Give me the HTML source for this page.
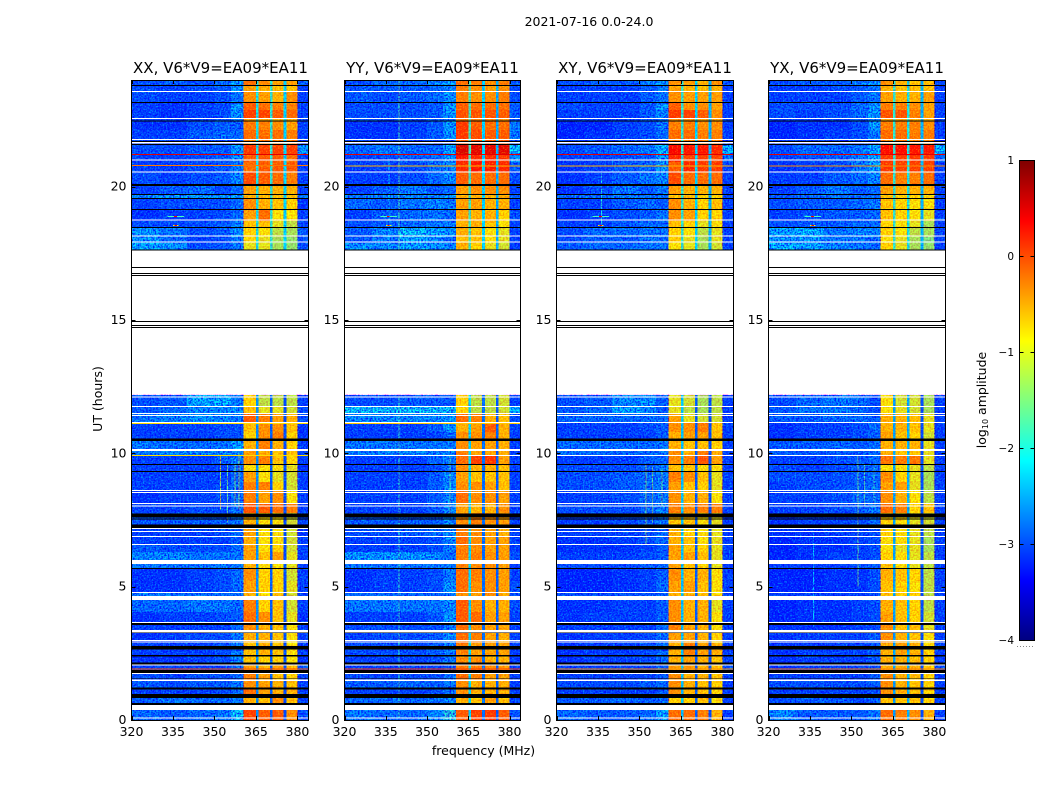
<!DOCTYPE html>
<html lang="en">
<head>
<meta charset="utf-8">
<title>2021-07-16 0.0-24.0</title>
<style>
html,body{margin:0;padding:0;background:#fff}
svg{display:block;font-family:"DejaVu Sans","Liberation Sans",sans-serif}
text{fill:#000}
</style>
</head>
<body>
<svg id="figure" width="1050" height="800" viewBox="0 0 1050 800" xmlns="http://www.w3.org/2000/svg">
<defs>
<filter id="grainCut" x="0" y="0" width="100%" height="100%" color-interpolation-filters="sRGB">
<feTurbulence type="fractalNoise" baseFrequency="0.6" numOctaves="1" seed="4"/>
<feColorMatrix type="matrix" values="0 0 0 0 1  0 0 0 0 0  0 0 0 0 1  3 0 0 0 -1.1"/>
</filter>
<filter id="grainAdd" x="0" y="0" width="100%" height="100%" color-interpolation-filters="sRGB">
<feTurbulence type="fractalNoise" baseFrequency="0.65" numOctaves="1" seed="11"/>
<feColorMatrix type="matrix" values="0 0 0 0 0  0 0 0 0 1  0 0 0 0 0  3 0 0 0 -1.5"/>
</filter>
</defs>
<text x="589" y="26" font-size="12.5" text-anchor="middle">2021-07-16 0.0-24.0</text>
<text x="220.5" y="73" font-size="15" text-anchor="middle">XX, V6*V9=EA09*EA11</text>
<text x="432.5" y="73" font-size="15" text-anchor="middle">YY, V6*V9=EA09*EA11</text>
<text x="645" y="73" font-size="15" text-anchor="middle">XY, V6*V9=EA09*EA11</text>
<text x="857" y="73" font-size="15" text-anchor="middle">YX, V6*V9=EA09*EA11</text>
<text transform="translate(102,399) rotate(-90)" font-size="12.5" text-anchor="middle">UT (hours)</text>
<text x="483.5" y="755" font-size="12.5" text-anchor="middle">frequency (MHz)</text>
<text transform="translate(986,400) rotate(-90)" font-size="12.5" text-anchor="middle">log<tspan font-size="8" dy="2">10</tspan><tspan dy="-2"> amplitude</tspan></text>
<g id="panels"></g>
<g id="colorbar"></g>
</svg>
<script>
// Axis tick labels
const freqTicks = [320, 335, 350, 365, 380];
const hourTicks = [0, 5, 10, 15, 20];
const colorbarTicks = [1, 0, -1, -2, -3, -4];

// Frequency column edges (MHz); sub-bands are separated by narrow gap channels
const freqEdges = [320, 330, 340, 350, 356, 360.5, 365, 366, 370, 371, 375, 376, 380, 384];

// Time row edges (hours), top of the plot to the bottom
const timeEdges = [24,23.81,23.59,23.18,22.88,22.58,22.46,22.13,21.75,21.56,21.23,20.93,20.55,20.1,19.73,19.58,19.16,18.71,18.49,18.11,17.89,17.63,
12.19,11.78,11.51,11.14,10.8,10.5,10.16,9.94,9.6,9.34,8.93,8.63,8.1,7.76,7.35,6.86,6.6,6.3,6,5.7,5.21,4.8,4.5,4.05,3.68,3.3,2.89,2.4,2.1,1.76,1.5,1.2,.94,.38,0];

// log10 amplitude by row: five low-band columns, four sub-bands, one high-band column
const heatXX = [
[-2.9,-2.8,-2.9,-2.7,-2.3,-.2,-.4,-.5,-.5,-2.7],[-2.9,-3,-2.9,-2.8,-2.5,-.5,-.6,-.7,-.7,-3],[-2.9,-3,-3,-2.9,-2.6,-.4,-.5,-.6,-.4,-3],
[-3,-3.1,-3,-2.9,-2.4,-.1,-.2,-.3,-.3,-3],[-3,-3.1,-3,-2.9,-2.4,.05,.05,-.1,-.2,-3],[-3,-3,-3,-2.9,-2.6,-.5,-.5,-.6,-.6,-3],
[-3.1,-3.1,-2.9,-2.8,-2.8,-.3,-.3,-.4,-.5,-3],[-3,-3,-2.8,-2.7,-2.7,-.2,-.2,-.2,-.3,-3],[-3,-3,-3,-3,-3,-.3,-.3,-.3,-.3,-3],
[-2.9,-2.9,-2.8,-2.8,-2.4,.1,.05,.05,.05,-2.4],[-3,-3,-2.9,-2.8,-2.5,-.1,-.1,-.1,-.2,-3],[-3,-3,-2.9,-2.8,-2.6,-.2,-.1,-.1,-.1,-3],
[-2.9,-3,-2.9,-2.8,-2.5,0,-.1,-.2,-.3,-3],[-3,-2.8,-2.7,-2.9,-2.7,-.5,-.6,-.6,-.6,-3],[-2.5,-2.4,-2.4,-2.4,-2.3,-.6,-.7,-.7,-.7,-2.6],
[-3,-2.9,-2.9,-2.9,-2.7,-.4,-.6,-.7,-.8,-3.1],[-3.1,-3,-3,-2.9,-2.7,-.5,-.2,-.9,-.9,-3],[-2.9,-2.9,-2.9,-2.8,-2.5,-.7,-.7,-1,-1.2,-2.9],
[-2.4,-2.6,-2.9,-2.8,-2.4,-.8,-.9,-1.2,-1.3,-2.8],[-2.4,-2.7,-3,-2.9,-2.6,-.9,-1,-1.3,-1.4,-2.9],[-2.3,-2.4,-2.9,-2.8,-2.6,-1,-1,-1.3,-1.4,-2.9],
null,
[-2.9,-2.8,-2.3,-2.2,-2.6,-.8,-1.2,-1.2,-1.2,-3],[-2.8,-2.7,-2.5,-2.5,-2.4,-.7,-1,-1,-1.1,-2.9],[-2.6,-2.5,-2.4,-2.5,-2.6,-.1,-.3,-.5,-.6,-2.9],
[-3,-3,-3,-2.9,-2.9,-.7,-.4,-.4,-.7,-3.1],[-3,-3,-3,-2.9,-2.9,-.8,-.4,-.3,-.8,-3.1],[-2.6,-2.7,-2.7,-2.6,-2.3,-.6,-.3,-.6,-.8,-3],
[-2.6,-2.5,-2.5,-2.5,-2.5,-.5,-.6,-.7,-.7,-3],[-3,-3,-3,-2.8,-2.5,-.4,-.3,-.7,-.8,-3],[-3,-3,-3,-3,-2.7,-.9,-.9,-.9,-1,-3.1],
[-3,-3,-3,-3,-2.7,-.5,-.9,-1,-1.1,-3],[-3,-3,-3,-2.9,-2.7,-.3,-.3,-.8,-1.1,-3],[-3.1,-3,-3,-2.9,-2.7,-.3,-.5,-.4,-.9,-3],
[-3,-3,-2.9,-2.9,-2.6,-.05,-.1,-.2,-.3,-3],[-2.8,-2.8,-2.8,-2.8,-2.6,-.6,-.9,-.9,-1.1,-3],[-3,-3,-3,-2.9,-2.7,-.5,-.9,-.9,-1.1,-3.1],
[-3,-3,-3,-3,-2.8,-.6,-.9,-.9,-1.1,-3],[-2.8,-2.9,-2.9,-2.9,-2.7,-.5,-.9,-.8,-1.1,-3],[-2.5,-2.5,-2.6,-2.6,-2.6,-.5,-.7,-.5,-1,-3],
[-2.6,-2.6,-2.6,-2.6,-2.6,-.6,-.9,-.9,-1,-3],[-3.1,-3.1,-3,-2.9,-2.7,-.4,-.8,-.8,-1.1,-3],[-3.1,-3.1,-3,-2.9,-2.7,-.5,-.8,-.8,-1,-3],
[-2.6,-2.6,-2.7,-2.7,-2.7,-.6,-.9,-.7,-1.1,-3],[-2.7,-2.7,-2.6,-2.6,-2.7,-.3,-.8,-.7,-1.1,-3],[-3.1,-3,-3,-2.9,-2.8,-.2,-.4,-.7,-1,-3.1],
[-3,-3,-3,-3,-2.7,-.4,-.6,-.7,-.9,-3],[-3.1,-3,-2.9,-2.9,-2.6,-.6,-.6,-.7,-.9,-3],[-3,-3,-3,-2.9,-2.6,-.7,-.6,-.7,-.9,-3],
[-3.1,-3.1,-3,-2.9,-2.5,-.7,-.8,-.8,-.9,-3.1],[-3,-3,-3,-3,-2.7,-.5,-.7,-.5,-.7,-2.8],[-2.9,-3,-2.9,-2.9,-2.7,-.3,-.5,-.7,-.8,-3],
[-2.8,-2.9,-2.8,-2.8,-2.6,-.4,-.5,-.6,-.7,-3],[-3,-3,-3,-2.9,-2.7,-.2,-.5,-.6,-.6,-3],[-2.8,-2.6,-2.7,-2.7,-2.6,-.6,-.7,-.4,-.7,-3],
[-2.7,-2.8,-2.7,-2.6,-2.1,.05,-.1,-.1,-.4,-2.9]];

const heatYY = [
[-2.9,-2.7,-2.7,-2.5,-2.3,-.2,-.3,-.4,-.3,-2.8],[-2.8,-2.8,-2.8,-2.7,-2.5,-.3,-.4,-.5,-.4,-2.9],[-2.8,-2.9,-2.8,-2.7,-2.4,-.3,-.4,-.4,-.3,-2.9],
[-2.9,-2.9,-2.9,-2.8,-2.4,-.1,-.2,-.2,-.2,-2.8],[-2.9,-2.9,-2.9,-2.8,-2.4,-.05,-.05,-.05,-.1,-2.8],[-2.9,-2.9,-2.9,-2.8,-2.7,-.3,-.3,-.3,-.4,-2.9],
[-3.1,-3.1,-3,-2.8,-2.4,.1,-.1,-.2,-.2,-2.6],[-3.1,-3.1,-3,-2.8,-2.4,.1,0,-.1,-.1,-2.6],[-3,-3,-3,-3,-3,-.1,-.1,-.1,-.1,-2.9],
[-2.7,-2.6,-2.7,-2.7,-2.3,.55,.5,.5,.5,-2.1],[-3,-2.9,-2.8,-2.7,-2.4,.3,.2,.2,.1,-2.4],[-3,-3,-2.9,-2.7,-2.5,.2,.3,.25,.2,-2.8],
[-3,-3,-2.9,-2.7,-2.5,-.1,-.2,-.2,-.2,-2.9],[-3,-2.8,-2.6,-2.8,-2.7,-.5,-.4,-.4,-.4,-3],[-2.6,-2.5,-2.5,-2.5,-2.3,-.6,-.6,-.6,-.6,-2.7],
[-2.7,-2.8,-2.6,-2.5,-2.6,-.5,-.5,-.6,-.6,-3],[-3,-2.8,-2.7,-2.6,-2.7,-.5,-.6,-.6,-.8,-2.9],[-2.9,-2.8,-2.7,-2.6,-2.6,-.6,-.6,-.7,-.9,-3],
[-2.8,-2.5,-2.1,-2.3,-2.4,-.6,-.7,-.9,-1,-3],[-2.8,-2.6,-2.3,-2.5,-2.7,-.7,-.7,-.9,-1,-3],[-2.4,-2.5,-2.3,-2.4,-2.5,-.6,-.8,-1,-1.1,-3],
null,
[-2.9,-2.9,-2.8,-2.8,-2.8,-.8,-1.2,-1.2,-1.1,-3],[-2.1,-2.1,-2.1,-2.1,-2.1,-.8,-1.2,-1.2,-1.1,-2.2],[-2.5,-2.5,-2.5,-2.5,-2.4,-.2,-.3,-.6,-.7,-2.9],
[-3,-3,-3,-2.8,-2.4,-.6,-.5,-.1,-.6,-3],[-3,-3,-3,-3,-2.8,-.4,-.4,-.3,-.6,-3],[-2.6,-2.6,-2.6,-2.6,-2.6,-.4,-.5,-.5,-.6,-3],
[-2.6,-2.5,-2.5,-2.5,-2.5,-.3,-.5,-.5,-.6,-3],[-3,-3,-3,-2.7,-2.6,-.2,.05,.1,-.5,-3],[-3,-3,-3,-2.9,-2.7,-.4,-.6,-.6,-.7,-3],
[-3,-3,-3,-2.8,-2.5,-.5,-.7,-.7,-.7,-3],[-3,-3,-3,-2.8,-2.5,-.4,-.4,-.5,-.7,-3],[-3,-3,-3,-2.8,-2.5,-.2,-.4,-.4,-.5,-3],
[-3,-3,-3,-2.8,-2.5,-.5,-.6,-.6,-.4,-3],[-2.8,-2.8,-2.8,-2.8,-2.5,-.4,-.3,-.4,-.5,-3],[-2.9,-2.9,-2.8,-2.7,-2.5,-.3,-.4,-.5,-.6,-3],
[-3,-3,-3,-2.9,-2.5,-.2,-.4,-.5,-.5,-3],[-3,-3,-3,-2.9,-2.6,-.3,-.4,-.5,-.5,-3],[-2.4,-2.4,-2.4,-2.5,-2.7,-.3,-.3,-.4,-.5,-2.9],
[-2.6,-2.6,-2.6,-2.6,-2.6,-.3,-.4,-.4,-.5,-3],[-3.1,-3,-3,-2.9,-2.6,-.2,-.3,-.4,-.5,-3],[-3.1,-3,-3,-2.9,-2.4,-.2,-.4,-.4,-.5,-2.9],
[-2.7,-2.7,-2.7,-2.7,-2.6,-.4,-.5,-.4,-.6,-2.9],[-2.6,-2.6,-2.6,-2.6,-2.5,-.1,-.4,-.6,-.6,-2.9],[-3,-3,-3,-2.8,-2.4,-.1,-.2,-.5,-.5,-3],
[-2.9,-2.9,-2.9,-2.9,-2.6,-.2,-.4,-.5,-.5,-3],[-3,-2.9,-2.9,-2.8,-2.5,-.2,-.3,-.5,-.6,-3],[-2.9,-2.9,-2.9,-2.8,-2.6,-.3,-.5,-.5,-.5,-3],
[-3,-3,-3,-2.9,-2.6,-.4,-.4,-.6,-.6,-3],[-3,-3,-3,-3,-2.8,-.3,-.3,-.4,-.5,-3],[-2.9,-3,-2.9,-2.9,-2.7,-.2,-.3,-.5,-.5,-3],
[-2.8,-2.8,-2.7,-2.8,-2.6,-.4,-.6,-.6,-.6,-3],[-3,-3,-3,-2.9,-2.7,-.4,-.6,-.6,-.6,-3],[-2.7,-2.7,-2.7,-2.6,-2.5,-.6,-.7,-.5,-.7,-3],
[-2.6,-2.7,-2.7,-2.5,-2,-.1,.05,.1,-.1,-2.9]];

const heatXY = [
[-2.9,-2.8,-2.8,-2.6,-2.4,-.4,-.5,-.6,-.4,-2.9],[-3,-3,-3,-2.8,-2.6,-.5,-.6,-.7,-.6,-3],[-3,-3,-3,-2.8,-2.6,-.4,-.5,-.5,-.5,-3],
[-2.9,-3,-3,-2.8,-2.4,-.1,-.4,-.4,-.5,-3],[-3,-3,-3,-2.8,-2.5,.1,.05,-.1,-.4,-3],[-3,-3,-3,-2.9,-2.7,-.4,-.4,-.5,-.5,-3],
[-3.2,-3.2,-3,-2.9,-2.6,-.3,-.3,-.4,-.4,-3],[-3.2,-3.1,-3,-2.9,-2.7,-.2,-.2,-.3,-.3,-3],[-3,-3,-3,-3,-3,-.3,-.3,-.3,-.3,-3],
[-2.9,-2.8,-2.7,-2.6,-2.2,.4,.3,.3,.2,-2.2],[-3,-3,-2.9,-2.8,-2.4,.2,.05,.05,.05,-2.7],[-3.1,-3,-2.8,-2.7,-2.4,-.1,.2,.1,.1,-3],
[-3.1,-3,-2.8,-2.6,-2.5,0,-.2,-.2,-.2,-3],[-3.1,-2.9,-2.6,-2.8,-2.6,-.5,-.6,-.6,-.6,-3],[-2.7,-2.7,-2.6,-2.6,-2.6,-.7,-.7,-.8,-.8,-3],
[-3,-3,-2.8,-2.7,-2.8,-.4,-.6,-.8,-.7,-3],[-3.1,-3,-2.9,-2.8,-2.6,-.4,-.5,-.8,-.8,-3],[-3,-3,-2.8,-2.7,-2.7,-.7,-.8,-1,-.9,-3],
[-2.9,-2.7,-2.7,-2.6,-2.6,-.8,-.9,-1.2,-1,-3],[-2.9,-2.8,-2.8,-2.6,-2.7,-.8,-1,-1.3,-1,-3],[-2.8,-2.7,-2.7,-2.6,-2.6,-.9,-1,-1.3,-1.1,-3],
null,
[-2.9,-2.8,-2.5,-2.4,-2.8,-1,-1.1,-1.3,-1.2,-3],[-2.8,-2.7,-2.3,-2.5,-2.8,-1,-1.2,-1.3,-1.2,-3],[-2.7,-2.7,-2.7,-2.7,-2.7,-.5,-1,-1.1,-1.1,-3],
[-3,-3,-3,-2.9,-2.8,-.4,-.4,-.3,-.7,-3],[-3,-3,-3,-3,-2.8,-.6,-.5,-.5,-.7,-3],[-2.7,-2.7,-2.7,-2.7,-2.6,-.6,-.7,-.7,-.8,-3],
[-2.7,-2.7,-2.7,-2.7,-2.6,-.4,-.6,-.3,-.6,-3],[-3,-3,-3,-2.8,-2.7,-.4,-.3,-.05,-.5,-3],[-2.9,-2.9,-2.9,-2.8,-2.6,-.7,-.7,-.9,-.9,-3],
[-2.9,-2.9,-2.8,-2.7,-2.6,-.3,-.4,-.7,-1,-3],[-2.9,-2.9,-2.8,-2.7,-2.6,-.5,-.7,-.8,-1,-3],[-3,-3,-2.9,-2.7,-2.6,-.4,-.6,-.6,-.9,-3],
[-2.9,-2.9,-2.9,-2.7,-2.5,-.3,-.4,-.3,-.3,-3],[-3,-3,-2.9,-2.8,-2.6,-.7,-.7,-.9,-1,-3],[-3,-3,-3,-2.9,-2.7,-.6,-.8,-.9,-1,-3],
[-3.1,-3.1,-3,-2.9,-2.7,-.6,-.7,-.9,-1,-3],[-3.1,-3.1,-3.1,-3,-2.8,-.5,-.7,-.8,-1,-3],[-3,-3,-3,-2.9,-2.8,-.5,-.5,-.7,-1,-3],
[-2.9,-2.9,-2.9,-2.8,-2.7,-.5,-.7,-.8,-1,-3],[-3.2,-3.2,-3.1,-3,-2.8,-.4,-.6,-.6,-.9,-3],[-3.2,-3.2,-3.1,-3,-2.7,-.5,-.5,-.7,-.9,-3],
[-2.9,-2.9,-2.9,-2.9,-2.8,-.6,-.6,-.7,-.9,-3],[-3.1,-3.1,-3,-3,-2.8,-.4,-.6,-.6,-1,-3],[-3.1,-3,-3,-3,-2.8,-.4,-.6,-.6,-.9,-3],
[-3,-3,-3,-3,-2.7,-.3,-.5,-.6,-.9,-3],[-3.1,-3,-3,-2.9,-2.7,-.5,-.5,-.6,-.8,-3],[-3.1,-3,-3,-2.9,-2.7,-.6,-.3,-.5,-.6,-3],
[-3.1,-3,-3,-2.9,-2.7,-.6,-.5,-.6,-.7,-3],[-3,-3,-3,-3,-2.8,-.5,-.5,-.6,-.7,-2.9],[-3,-3,-3,-3,-2.8,-.4,-.6,-.6,-.7,-3],
[-2.9,-2.9,-2.9,-2.8,-2.7,-.4,-.6,-.7,-.8,-3],[-3,-3,-3,-3,-2.8,-.4,-.6,-.7,-.8,-3],[-2.8,-2.8,-2.7,-2.8,-2.7,-.8,-.8,-.7,-.9,-3],
[-2.7,-2.8,-2.8,-2.7,-2.3,-.2,-.2,-.3,-.6,-3]];

const heatYX = [
[-2.9,-2.8,-2.8,-2.6,-2.4,-.4,-.6,-.7,-.7,-2.9],[-3,-3,-2.9,-2.8,-2.6,-.6,-.7,-.7,-.7,-3],[-3,-3,-3,-2.8,-2.6,-.5,-.6,-.6,-.5,-3],
[-2.9,-2.9,-2.9,-2.7,-2.4,-.3,-.3,-.4,-.5,-3],[-2.9,-3,-2.9,-2.7,-2.4,-.05,-.05,-.3,-.5,-3],[-3,-3,-3,-2.8,-2.6,-.5,-.5,-.6,-.6,-3],
[-3.2,-3.1,-3.1,-2.9,-2.4,-.3,-.3,-.3,-.4,-3],[-3.2,-3.1,-3,-2.9,-2.6,-.2,-.2,-.3,-.3,-3],[-3,-3,-3,-3,-3,-.3,-.3,-.3,-.3,-3],
[-2.9,-2.7,-2.7,-2.6,-2.3,.35,.35,.3,.3,-2.2],[-3,-2.9,-2.8,-2.6,-2.3,.1,.1,.1,.1,-2.7],[-3.1,-3,-2.9,-2.6,-2.3,.1,.05,.05,.05,-3],
[-3,-3,-2.8,-2.7,-2.5,-.2,-.3,-.3,-.2,-3],[-3,-2.8,-2.6,-2.8,-2.7,-.5,-.6,-.6,-.6,-3],[-2.8,-2.7,-2.6,-2.7,-2.6,-.7,-.8,-.8,-.9,-2.9],
[-2.9,-2.8,-2.8,-2.7,-2.6,-.7,-.8,-.9,-.9,-3],[-3,-2.9,-2.8,-2.8,-2.7,-.7,-.8,-.9,-1,-3],[-2.9,-2.8,-2.8,-2.7,-2.7,-.8,-.9,-1,-1.3,-3],
[-2.3,-2.2,-2.6,-2.5,-2.5,-.8,-.9,-1.2,-1.3,-3],[-2.4,-2.4,-2.6,-2.6,-2.7,-.9,-1,-1.3,-1.5,-3],[-2.2,-2.3,-2.5,-2.6,-2.7,-.8,-1,-1.3,-1.4,-3],
null,
[-2.9,-2.7,-2.6,-2.7,-2.9,-.9,-1.1,-1.1,-1.3,-3],[-2.8,-2.6,-2.6,-2.7,-2.9,-.9,-1,-1.1,-1.3,-3],[-2.8,-2.8,-2.7,-2.7,-2.8,-.6,-.6,-.7,-1,-3],
[-3.1,-3,-3,-2.9,-2.7,-.6,-.6,-.7,-1,-3],[-3.1,-3,-3,-2.9,-2.8,-.5,-.7,-.8,-1.1,-3],[-2.8,-2.8,-2.7,-2.8,-2.7,-.6,-.6,-.6,-1,-3],
[-2.8,-2.8,-2.8,-2.8,-2.7,-.6,-.7,-.7,-1,-3],[-3,-3,-2.9,-2.8,-2.7,-.25,-.3,-.25,-1,-3],[-2.9,-3,-2.9,-2.8,-2.7,-.9,-.9,-1,-1.2,-3],
[-2.9,-2.9,-2.9,-2.8,-2.7,-.4,-.8,-1,-1.3,-3],[-3,-2.9,-2.9,-2.8,-2.7,-.5,-.5,-1,-1.3,-3],[-3,-3,-2.9,-2.7,-2.7,-.4,-.6,-.9,-1.2,-3],
[-3,-3,-2.9,-2.8,-2.6,-.2,-.3,-.8,-.7,-3],[-3.1,-3,-3,-2.9,-2.7,-.8,-.9,-1,-1.1,-3],[-3.1,-3.1,-3,-3,-2.9,-.8,-.9,-1,-1.2,-3],
[-3.2,-3.1,-3.1,-3,-2.9,-.9,-.9,-1,-1.3,-3],[-3.2,-3.1,-3.1,-3,-2.9,-.9,-1,-1,-1.3,-3],[-3.2,-3.1,-3,-3,-2.9,-.8,-.9,-1,-1.2,-3],
[-3,-3,-3,-2.9,-2.8,-.7,-.9,-1,-1.2,-3],[-3.2,-3.2,-3.1,-3.1,-2.9,-.6,-.7,-.8,-1.2,-3],[-3.2,-3.2,-3.1,-3.1,-2.9,-.7,-.8,-.9,-1.2,-3],
[-3,-3,-3,-3,-2.9,-.7,-.8,-.8,-1.2,-3],[-3.2,-3.1,-3.1,-3,-2.9,-.6,-.7,-.8,-1.2,-3],[-3.2,-3.1,-3.1,-3,-2.9,-.5,-.7,-.8,-1.1,-3],
[-3.1,-3.1,-3.1,-3,-2.9,-.4,-.7,-.7,-1,-3],[-3.1,-3,-3,-3,-2.8,-.4,-.6,-.7,-.9,-3],[-3.1,-3,-3,-3,-2.8,-.6,-.5,-.6,-.8,-3],
[-3.1,-3,-3,-3,-2.8,-.6,-.6,-.7,-.8,-3],[-3.1,-3,-3,-3,-2.9,-.6,-.6,-.6,-.8,-2.9],[-3,-3,-3,-3,-2.8,-.4,-.6,-.7,-.8,-3],
[-2.9,-2.9,-2.9,-2.9,-2.8,-.4,-.6,-.7,-.8,-3],[-3,-3,-3,-3,-2.9,-.4,-.6,-.7,-.8,-3],[-2.9,-2.8,-2.8,-2.9,-2.8,-.7,-.7,-.7,-.8,-3],
[-2.5,-2.8,-2.8,-2.8,-2.6,-.2,-.3,-.4,-.6,-3]];

// Gap channel amplitudes near 365, 370 and 375 MHz, late block then early block
const gapXXLate = [-2, -1.9, -2.2];
const gapXXEarly = [-2.6, -2.9, -3];
const gapYYLate = [-1.8, -2.2, -2.4];
const gapYYEarly = [-2.2, -2.8, -2.9];
const gapXYLate = [-1.9, -2.2, -2.4];
const gapXYEarly = [-2.3, -2.9, -3];
const gapYXLate = [-1.9, -2, -2.4];
const gapYXEarly = [-2.5, -2.4, -3];

// Flagged time ranges shared by all panels [from hour, to hour]
const blackBands = [[23.78,23.81],[23.14,23.18],[22.44,22.48],[21.68,21.71],[21.56,21.6],[20.03,20.1],[19.69,19.73],[19.54,19.58],[19.13,19.16],[18.45,18.49],[17.61,17.64],[16.95,16.99],[16.73,16.76],[16.65,16.69],[14.93,14.96],[14.78,14.81],[14.7,14.74],
[10.46,10.56],[9.56,9.6],[9.3,9.34],[7.59,7.74],[7.52,7.56],[7.2,7.33],[5.66,5.7],[3.56,3.63],[3.27,3.29],[2.65,2.77],[2.38,2.44],[2.08,2.16],[1.77,1.87],[1.54,1.55],[1.14,1.21],[.82,.98],[.57,.63]];
const whiteBands = [[23.55,23.59],[22.54,22.58],[21.75,21.79],[21.62,21.68],[20.98,21.02],[20.53,20.57],[18.73,18.77],[18.13,18.17],[17.9,17.94],
[12.1,12.13],[11.74,11.78],[11.47,11.51],[11.4,11.44],[11.14,11.18],[10.09,10.16],[9.9,9.94],[8.59,8.63],[8.51,8.55],[8.1,8.14],[8,8.04],[7.16,7.2],[7.05,7.09],[6.86,6.9],[6.56,6.6],[5.85,6],[4.76,4.8],[4.5,4.65],[3.64,3.68],[3.29,3.37],[2.96,3],[2.9,2.94],[2.05,2.08],[1.72,1.76],[1.46,1.52],[.38,.57],[.06,.1]];

// Narrow-band time samples in each panel [hour, log10 amplitude]
const linesXX = [[21.22,.5],[20.81,-.2],[11.14,-.7],[9.93,-.7],[1.94,0]];
const linesYY = [[21.22,.5],[20.8,-.5],[11.14,-.6],[1.94,.1]];
const linesXY = [[21.22,.5],[20.8,-.5],[1.94,-.3]];
const linesYX = [[21.22,.5],[20.8,-.3],[1.94,-.2]];

// Interference channels in each panel [MHz, from hour, to hour, log10 amplitude]
const rfiXX = [[352,7.9,9.9,-1.4],[354.5,7.4,9.6,-1.7],[357.2,8,9.6,-1.6],[358.6,7.9,10,-1.5]];
const rfiYY = [[339.7,.1,12.19,-1.9],[339.7,17.63,24,-1.8],[336,17.7,21,-2.2],[358.2,7.6,9.9,-1.8]];
const rfiXY = [[336,18.5,20.5,-2],[352.2,6.6,9.6,-1.6],[354.5,7.4,9.5,-1.7],[358,8,9.4,-1.7]];
const rfiYX = [[336,3.5,7,-2.3],[352.2,5,9.9,-1.7],[354.5,8,9.6,-1.8],[358,8,9.5,-1.9]];

// Short interference streaks shared by all panels [hour, from MHz, to MHz, log10 amplitude]
const streaks = [[18.9,333,339,-1.8],[18.9,335.4,336.4,.4],[18.56,335,337,-1],[18.56,335.6,336.4,.4]];

const panelLefts = [131.5, 344.5, 556.5, 768.5];
const panelWidths = [177, 176, 177, 177];
const plotTop = 80;
const plotHeight = 640;
const panelKeys = ['xx', 'yy', 'xy', 'yx'];
const panelHeat = [heatXX, heatYY, heatXY, heatYX];
const panelGapsLate = [gapXXLate, gapYYLate, gapXYLate, gapYXLate];
const panelGapsEarly = [gapXXEarly, gapYYEarly, gapXYEarly, gapYXEarly];
const panelLines = [linesXX, linesYY, linesXY, linesYX];
const panelRfi = [rfiXX, rfiYY, rfiXY, rfiYX];

const NS = 'http://www.w3.org/2000/svg';
function xAxis(freq, p) { return panelLefts[p] + (freq - 320) / 64 * panelWidths[p]; }
function yAxis(hour) { return plotTop + plotHeight - hour / 24 * plotHeight; }
function clip01(v) { return Math.max(0, Math.min(1, v)); }
function jet(value) {
  const t = clip01((value + 4) / 5);
  const r = clip01(1.5 - Math.abs(4 * t - 3));
  const g = clip01(1.5 - Math.abs(4 * t - 2));
  const b = clip01(1.5 - Math.abs(4 * t - 1));
  return 'rgb(' + Math.round(r * 255) + ',' + Math.round(g * 255) + ',' + Math.round(b * 255) + ')';
}
function rect(parent, x0, y0, x1, y1, fill) {
  const el = document.createElementNS(NS, 'rect');
  el.setAttribute('x', x0);
  el.setAttribute('y', y0);
  el.setAttribute('width', Math.max(x1 - x0, 0));
  el.setAttribute('height', Math.max(y1 - y0, 0));
  el.setAttribute('fill', fill);
  el.setAttribute('shape-rendering', 'crispEdges');
  parent.appendChild(el);
  return el;
}
function line(parent, x0, y0, x1, y1, stroke) {
  const el = document.createElementNS(NS, 'line');
  el.setAttribute('x1', x0);
  el.setAttribute('y1', y0);
  el.setAttribute('x2', x1);
  el.setAttribute('y2', y1);
  el.setAttribute('stroke', stroke);
  el.setAttribute('stroke-width', 1);
  el.setAttribute('shape-rendering', 'crispEdges');
  parent.appendChild(el);
  return el;
}
function label(parent, x, y, content, anchor, size) {
  const el = document.createElementNS(NS, 'text');
  el.setAttribute('x', x);
  el.setAttribute('y', y);
  el.setAttribute('text-anchor', anchor);
  el.setAttribute('font-size', size);
  el.textContent = content;
  parent.appendChild(el);
  return el;
}

const panelsRoot = document.getElementById('panels');
panelKeys.forEach(function (key, p) {
  const left = panelLefts[p];
  const right = left + panelWidths[p];
  const group = document.createElementNS(NS, 'g');
  
  
  panelsRoot.appendChild(group);

  // Speckle texture first needs the cells beneath it, so draw the cells now
  panelHeat[p].forEach(function (row, r) {
    if (!row) return;
    const top = yAxis(timeEdges[r]);
    const bottom = yAxis(timeEdges[r + 1]);
    const gaps = timeEdges[r] > 15 ? panelGapsLate[p] : panelGapsEarly[p];
    const cols = row.slice(0, 6).concat([gaps[0], row[6], gaps[1], row[7], gaps[2], row[8], row[9]]);
    cols.forEach(function (value, c) {
      const cell = rect(group, xAxis(freqEdges[c], p), top, xAxis(freqEdges[c + 1], p), bottom, jet(value));
      
      
    });
  });

  panelRfi[p].forEach(function (rfi) {
    const x = xAxis(rfi[0], p);
    const mark = rect(group, x, yAxis(rfi[2]), x + 1, yAxis(rfi[1]), jet(rfi[3]));
    
    
  });

  // Speckle texture: strong over the quiet bands, gentler over the bright sub-bands
  [[24, 17.63], [12.19, 0]].forEach(function (block) {
    [[320, 360.5, 0.9, 0.55], [360.5, 380, 0.35, 0.45], [380, 384, 0.9, 0.55]].forEach(function (zone) {
      const cut = rect(group, xAxis(zone[0], p), yAxis(block[0]), xAxis(zone[1], p), yAxis(block[1]), '#000');
      cut.setAttribute('filter', 'url(#grainCut)');
      cut.setAttribute('opacity', zone[2]);
      cut.style.mixBlendMode = 'multiply';
      
      
      const add = rect(group, xAxis(zone[0], p), yAxis(block[0]), xAxis(zone[1], p), yAxis(block[1]), '#000');
      add.setAttribute('filter', 'url(#grainAdd)');
      add.setAttribute('opacity', zone[3]);
      add.style.mixBlendMode = 'screen';
      
      
    });
  });

  streaks.forEach(function (s) {
    const y = yAxis(s[0]);
    const mark = rect(group, xAxis(s[1], p), y, xAxis(s[2], p), y + 1, jet(s[3]));
    
    
  });

  whiteBands.forEach(function (band) {
    const mark = rect(group, left, yAxis(band[1]), right, yAxis(band[0]), '#fff');
    
    
  });
  blackBands.forEach(function (band) {
    const mark = rect(group, left, yAxis(band[1]), right, yAxis(band[0]), '#000');
    
    
  });
  panelLines[p].forEach(function (entry) {
    const y = yAxis(entry[0]);
    const mark = rect(group, left, y, right, y + 1, jet(entry[1]));
    
    
  });

  const frame = document.createElementNS(NS, 'rect');
  frame.setAttribute('x', left);
  frame.setAttribute('y', plotTop + 0.5);
  frame.setAttribute('width', panelWidths[p]);
  frame.setAttribute('height', plotHeight);
  frame.setAttribute('fill', 'none');
  frame.setAttribute('stroke', '#000');
  frame.setAttribute('shape-rendering', 'crispEdges');
  
  
  group.appendChild(frame);

  freqTicks.forEach(function (freq) {
    const x = Math.round(xAxis(freq, p)) + 0.5;
    const tickTop = line(group, x, plotTop, x, plotTop + 4, '#000');
    
    
    const tickBottom = line(group, x, plotTop + plotHeight - 4, x, plotTop + plotHeight, '#000');
    
    
    const text = label(group, xAxis(freq, p), 736, String(freq), 'middle', 12.5);
    
    
  });
  hourTicks.forEach(function (hour) {
    const y = Math.round(yAxis(hour)) + 0.5;
    const tickLeft = line(group, left, y, left + 4, y, '#000');
    
    
    const tickRight = line(group, right - 4, y, right, y, '#000');
    
    
    const text = label(group, left - 5, yAxis(hour) + 4, String(hour), 'end', 12.5);
    
    
  });
});

// Colorbar
const cbar = document.getElementById('colorbar');
const cbarLeft = 1019.5, cbarRight = 1034.5, cbarTop = 160.5, cbarHeight = 480;
function cbarAxis(value) { return cbarTop + (1 - value) / 5 * cbarHeight; }
for (let py = 0; py < cbarHeight; py += 2) {
  const level = 1 - (py + 1) / cbarHeight * 5;
  const swatch = rect(cbar, cbarLeft, cbarTop + py, cbarRight, cbarTop + py + 2, jet(level));
  
  
}
const cbarFrame = document.createElementNS(NS, 'rect');
cbarFrame.setAttribute('x', cbarLeft);
cbarFrame.setAttribute('y', cbarTop);
cbarFrame.setAttribute('width', cbarRight - cbarLeft);
cbarFrame.setAttribute('height', cbarHeight);
cbarFrame.setAttribute('fill', 'none');
cbarFrame.setAttribute('stroke', '#000');
cbarFrame.setAttribute('shape-rendering', 'crispEdges');


cbar.appendChild(cbarFrame);
colorbarTicks.forEach(function (value) {
  const y = Math.round(cbarAxis(value) - 0.5) + 0.5;
  const tickA = line(cbar, cbarLeft, y, cbarLeft + 4, y, '#000');
  
  
  const tickB = line(cbar, cbarRight - 4, y, cbarRight, y, '#000');
  
  
  const text = label(cbar, 1014, cbarAxis(value) + 3.5, String(value).replace('-', '\u2212'), 'end', 10.5);
  
  
});
const cbarDots = line(cbar, 1017, 646.5, 1035, 646.5, '#888');
cbarDots.setAttribute('stroke-dasharray', '1 2');


</script>
</body>
</html>
